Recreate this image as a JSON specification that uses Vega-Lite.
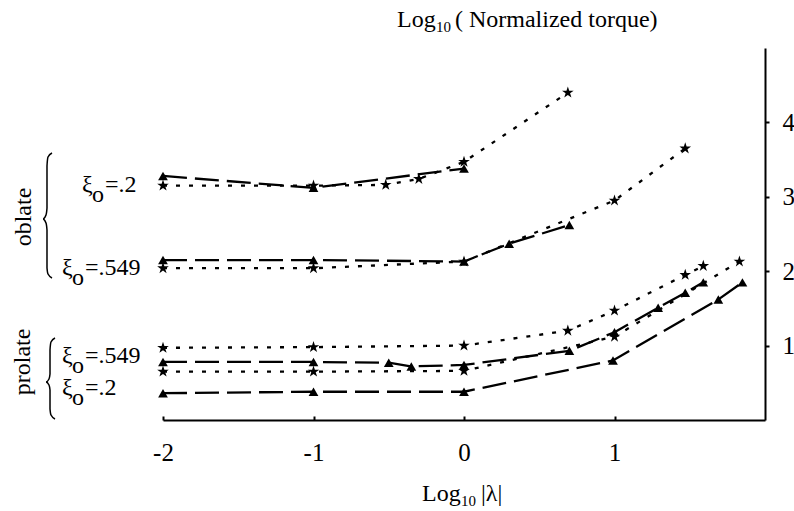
{
  "$schema": "https://vega.github.io/schema/vega-lite/v6.json",
  "width": 602,
  "height": 372,
  "autosize": {"type": "none"},
  "padding": {"left": 163, "top": 48, "right": 29, "bottom": 91},
  "background": "white",
  "config": {
    "view": {"stroke": null},
    "font": "Liberation Serif",
    "axis": {"grid": false, "domainColor": "black", "tickColor": "black", "labelColor": "black", "titleColor": "black", "labelFont": "Liberation Serif", "titleFont": "Liberation Serif", "titleFontWeight": "normal"}
  },
  "datasets": {
    "series": [
      {"series": "oblate_0.2_tri", "kind": "tri", "x": -2, "y": 3.28},
      {"series": "oblate_0.2_tri", "kind": "tri", "x": -1, "y": 3.12},
      {"series": "oblate_0.2_tri", "kind": "tri", "x": 0, "y": 3.38},
      {"series": "oblate_0.2_star", "kind": "star", "x": -2, "y": 3.15},
      {"series": "oblate_0.2_star", "kind": "star", "x": -1, "y": 3.15},
      {"series": "oblate_0.2_star", "kind": "star", "x": -0.52, "y": 3.16},
      {"series": "oblate_0.2_star", "kind": "star", "x": -0.3, "y": 3.24},
      {"series": "oblate_0.2_star", "kind": "star", "x": 0, "y": 3.47},
      {"series": "oblate_0.2_star", "kind": "star", "x": 0.69, "y": 4.4},
      {"series": "oblate_0.549_tri", "kind": "tri", "x": -2, "y": 2.15},
      {"series": "oblate_0.549_tri", "kind": "tri", "x": -1, "y": 2.15},
      {"series": "oblate_0.549_tri", "kind": "tri", "x": 0, "y": 2.13},
      {"series": "oblate_0.549_tri", "kind": "tri", "x": 0.3, "y": 2.37},
      {"series": "oblate_0.549_tri", "kind": "tri", "x": 0.7, "y": 2.62},
      {"series": "oblate_0.549_star", "kind": "star", "x": -2, "y": 2.04},
      {"series": "oblate_0.549_star", "kind": "star", "x": -1, "y": 2.04},
      {"series": "oblate_0.549_star", "kind": "star", "x": 0, "y": 2.13},
      {"series": "oblate_0.549_star", "kind": "star", "x": 1, "y": 2.95},
      {"series": "oblate_0.549_star", "kind": "star", "x": 1.47, "y": 3.65},
      {"series": "prolate_0.549_tri", "kind": "tri", "x": -2, "y": 0.78},
      {"series": "prolate_0.549_tri", "kind": "tri", "x": -1, "y": 0.78},
      {"series": "prolate_0.549_tri", "kind": "tri", "x": -0.5, "y": 0.77},
      {"series": "prolate_0.549_tri", "kind": "tri", "x": -0.35, "y": 0.72},
      {"series": "prolate_0.549_tri", "kind": "tri", "x": 0, "y": 0.74},
      {"series": "prolate_0.549_tri", "kind": "tri", "x": 0.7, "y": 0.93},
      {"series": "prolate_0.549_tri", "kind": "tri", "x": 1, "y": 1.18},
      {"series": "prolate_0.549_tri", "kind": "tri", "x": 1.29, "y": 1.51},
      {"series": "prolate_0.549_tri", "kind": "tri", "x": 1.47, "y": 1.71},
      {"series": "prolate_0.549_tri", "kind": "tri", "x": 1.59, "y": 1.85},
      {"series": "prolate_0.549_star", "kind": "star", "x": -2, "y": 0.97},
      {"series": "prolate_0.549_star", "kind": "star", "x": -1, "y": 0.98},
      {"series": "prolate_0.549_star", "kind": "star", "x": 0, "y": 1.0},
      {"series": "prolate_0.549_star", "kind": "star", "x": 0.69, "y": 1.2},
      {"series": "prolate_0.549_star", "kind": "star", "x": 1, "y": 1.47},
      {"series": "prolate_0.549_star", "kind": "star", "x": 1.47, "y": 1.95},
      {"series": "prolate_0.549_star", "kind": "star", "x": 1.59, "y": 2.07},
      {"series": "prolate_0.2_star", "kind": "star", "x": -2, "y": 0.65},
      {"series": "prolate_0.2_star", "kind": "star", "x": -1, "y": 0.65},
      {"series": "prolate_0.2_star", "kind": "star", "x": 0, "y": 0.66},
      {"series": "prolate_0.2_star", "kind": "star", "x": 1, "y": 1.12},
      {"series": "prolate_0.2_star", "kind": "star", "x": 1.83, "y": 2.13},
      {"series": "prolate_0.2_tri", "kind": "tri", "x": -2, "y": 0.36},
      {"series": "prolate_0.2_tri", "kind": "tri", "x": -1, "y": 0.38},
      {"series": "prolate_0.2_tri", "kind": "tri", "x": 0, "y": 0.38},
      {"series": "prolate_0.2_tri", "kind": "tri", "x": 0.99, "y": 0.8},
      {"series": "prolate_0.2_tri", "kind": "tri", "x": 1.69, "y": 1.62},
      {"series": "prolate_0.2_tri", "kind": "tri", "x": 1.85, "y": 1.85}
    ],
    "captions": [
      {"text": "Log", "part": "main", "x": -0.445, "y": 5.282},
      {"text": "10", "part": "sub", "x": -0.186, "y": 5.215},
      {"text": "( Normalized torque)", "part": "main", "x": -0.06, "y": 5.282},
      {"text": "Log", "part": "main", "x": -0.279, "y": -1.089},
      {"text": "10", "part": "sub", "x": -0.02, "y": -1.156},
      {"text": "|λ|", "part": "main", "x": 0.113, "y": -1.089}
    ],
    "labels": [
      {"text": "ξ", "x": -2.5382, "y": 3.0645},
      {"text": "o", "x": -2.4718, "y": 2.9301},
      {"text": "=.2", "x": -2.3854, "y": 3.0645},
      {"text": "ξ", "x": -2.6711, "y": 1.9489},
      {"text": "o", "x": -2.6047, "y": 1.8145},
      {"text": "=.549", "x": -2.5183, "y": 1.9489},
      {"text": "ξ", "x": -2.6711, "y": 0.7661},
      {"text": "o", "x": -2.6047, "y": 0.6317},
      {"text": "=.549", "x": -2.5183, "y": 0.7661},
      {"text": "ξ", "x": -2.6711, "y": 0.336},
      {"text": "o", "x": -2.6047, "y": 0.2016},
      {"text": "=.2", "x": -2.5183, "y": 0.336}
    ],
    "groups": [
      {"label": "oblate", "x": -2.924, "y": 2.728},
      {"label": "prolate", "x": -2.93, "y": 0.78}
    ],
    "braces": [
      {"brace": "oblate", "i": 0, "x": -2.7375, "y": 3.589},
      {"brace": "oblate", "i": 1, "x": -2.7641, "y": 3.535},
      {"brace": "oblate", "i": 2, "x": -2.7708, "y": 3.414},
      {"brace": "oblate", "i": 3, "x": -2.7708, "y": 2.849},
      {"brace": "oblate", "i": 4, "x": -2.7774, "y": 2.755},
      {"brace": "oblate", "i": 5, "x": -2.7973, "y": 2.702},
      {"brace": "oblate", "i": 6, "x": -2.7774, "y": 2.648},
      {"brace": "oblate", "i": 7, "x": -2.7708, "y": 2.554},
      {"brace": "oblate", "i": 8, "x": -2.7708, "y": 2.043},
      {"brace": "oblate", "i": 9, "x": -2.7641, "y": 1.962},
      {"brace": "oblate", "i": 10, "x": -2.7375, "y": 1.909},
      {"brace": "prolate", "i": 0, "x": -2.7176, "y": 1.102},
      {"brace": "prolate", "i": 1, "x": -2.7442, "y": 1.048},
      {"brace": "prolate", "i": 2, "x": -2.7508, "y": 0.941},
      {"brace": "prolate", "i": 3, "x": -2.7508, "y": 0.618},
      {"brace": "prolate", "i": 4, "x": -2.7575, "y": 0.551},
      {"brace": "prolate", "i": 5, "x": -2.7774, "y": 0.511},
      {"brace": "prolate", "i": 6, "x": -2.7575, "y": 0.47},
      {"brace": "prolate", "i": 7, "x": -2.7508, "y": 0.403},
      {"brace": "prolate", "i": 8, "x": -2.7508, "y": 0.148},
      {"brace": "prolate", "i": 9, "x": -2.7442, "y": 0.067},
      {"brace": "prolate", "i": 10, "x": -2.7176, "y": 0.013}
    ]
  },
  "layer": [
    {
      "data": {"name": "series"},
      "mark": {"type": "line", "color": "black", "strokeWidth": 2.3, "clip": false},
      "encoding": {
        "x": {
          "field": "x", "type": "quantitative",
          "scale": {"domain": [-2, 2], "nice": false, "zero": false},
          "axis": {
            "orient": "bottom", "values": [-2, -1, 0, 1],
            "labelExpr": "'' + datum.value",
            "title": null,
            "labelFontSize": 25, "labelPadding": 24, "tickSize": -4, "tickWidth": 2,
            "domainWidth": 2, "labelFlush": false
          }
        },
        "y": {
          "field": "y", "type": "quantitative",
          "scale": {"domain": [0, 5], "nice": false, "zero": false},
          "axis": {
            "orient": "right", "values": [1, 2, 3, 4],
            "labelExpr": "'' + datum.value",
            "title": null, "labelFontSize": 25, "labelPadding": 13,
            "tickSize": 4, "tickWidth": 2, "domainWidth": 2, "labelFlush": false
          }
        },
        "detail": {"field": "series"},
        "strokeDash": {
          "field": "kind", "type": "nominal",
          "scale": {"domain": ["tri", "star"], "range": [[24, 8], [4, 9]]},
          "legend": null
        }
      }
    },
    {
      "data": {"name": "series"},
      "mark": {"type": "point", "filled": true, "color": "black", "opacity": 1, "clip": false},
      "encoding": {
        "x": {"field": "x", "type": "quantitative", "scale": {"domain": [-2, 2], "nice": false, "zero": false}},
        "y": {"field": "y", "type": "quantitative", "scale": {"domain": [0, 5], "nice": false, "zero": false}},
        "shape": {
          "field": "kind", "type": "nominal",
          "scale": {"domain": ["tri", "star"], "range": ["triangle-up", "M0,-1L0.2245,-0.309L0.9511,-0.309L0.3633,0.118L0.5878,0.809L0,0.382L-0.5878,0.809L-0.3633,0.118L-0.9511,-0.309L-0.2245,-0.309Z"]},
          "legend": null
        },
        "size": {
          "field": "kind", "type": "nominal",
          "scale": {"domain": ["tri", "star"], "range": [95, 150]},
          "legend": null
        }
      }
    },
    {
      "data": {"name": "braces"},
      "mark": {"type": "line", "color": "black", "strokeWidth": 1.5, "clip": false, "interpolate": "monotone"},
      "encoding": {
        "x": {"field": "x", "type": "quantitative", "scale": {"domain": [-2, 2], "nice": false, "zero": false}},
        "y": {"field": "y", "type": "quantitative", "scale": {"domain": [0, 5], "nice": false, "zero": false}},
        "detail": {"field": "brace"},
        "order": {"field": "i", "type": "quantitative"}
      }
    },
    {
      "data": {"name": "captions"},
      "transform": [{"filter": "datum.part === 'main'"}],
      "mark": {"type": "text", "align": "left", "baseline": "alphabetic", "font": "Liberation Serif", "fontSize": 24, "color": "black", "clip": false},
      "encoding": {
        "x": {"field": "x", "type": "quantitative", "scale": {"domain": [-2, 2], "nice": false, "zero": false}},
        "y": {"field": "y", "type": "quantitative", "scale": {"domain": [0, 5], "nice": false, "zero": false}},
        "text": {"field": "text"}
      }
    },
    {
      "data": {"name": "captions"},
      "transform": [{"filter": "datum.part === 'sub'"}],
      "mark": {"type": "text", "align": "left", "baseline": "alphabetic", "font": "Liberation Serif", "fontSize": 15, "color": "black", "clip": false},
      "encoding": {
        "x": {"field": "x", "type": "quantitative", "scale": {"domain": [-2, 2], "nice": false, "zero": false}},
        "y": {"field": "y", "type": "quantitative", "scale": {"domain": [0, 5], "nice": false, "zero": false}},
        "text": {"field": "text"}
      }
    },
    {
      "data": {"name": "labels"},
      "mark": {"type": "text", "align": "left", "baseline": "alphabetic", "font": "Liberation Serif", "fontSize": 24, "color": "black", "clip": false},
      "encoding": {
        "x": {"field": "x", "type": "quantitative", "scale": {"domain": [-2, 2], "nice": false, "zero": false}},
        "y": {"field": "y", "type": "quantitative", "scale": {"domain": [0, 5], "nice": false, "zero": false}},
        "text": {"field": "text"}
      }
    },
    {
      "data": {"name": "groups"},
      "mark": {"type": "text", "align": "center", "baseline": "middle", "angle": 270, "font": "Liberation Serif", "fontSize": 24, "color": "black", "clip": false},
      "encoding": {
        "x": {"field": "x", "type": "quantitative", "scale": {"domain": [-2, 2], "nice": false, "zero": false}},
        "y": {"field": "y", "type": "quantitative", "scale": {"domain": [0, 5], "nice": false, "zero": false}},
        "text": {"field": "label"}
      }
    }
  ]
}
